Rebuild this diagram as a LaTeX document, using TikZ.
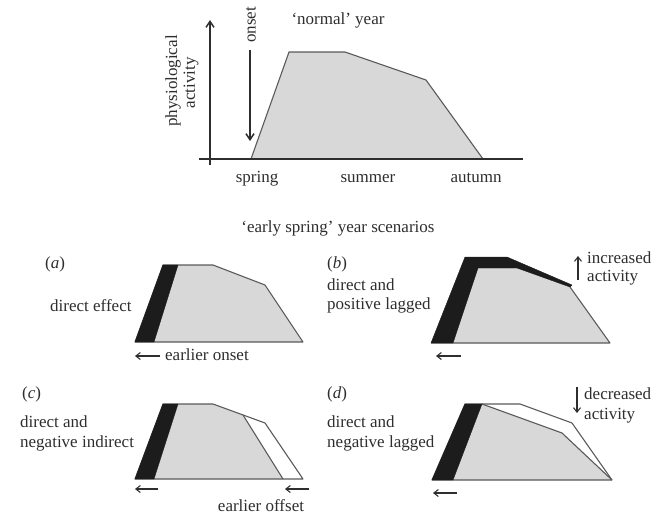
\documentclass[tikz,border=0pt]{standalone}
\usepackage{fontspec}
\setmainfont{Liberation Serif}
\usetikzlibrary{arrows.meta}
\definecolor{txtc}{HTML}{2E2E2E}
\definecolor{fillg}{HTML}{D8D8D8}
\definecolor{edgec}{HTML}{5A5A5A}
\definecolor{bandc}{HTML}{1C1C1C}
\begin{document}
\begin{tikzpicture}[x=1pt,y=-1pt,
  lbl/.style={font=\fontsize{17}{20}\selectfont, inner sep=0pt, text=txtc},
  shapeedge/.style={draw=edgec, line width=1.1pt, line join=round},
  greyfill/.style={fill=fillg},
  band/.style={fill=bandc, draw=bandc, line width=0.4pt, line join=round},
  axisline/.style={draw=txtc, line width=1.6pt},
  bigarrow/.style={draw=txtc, line width=1.5pt, -{Straight Barb[length=6pt,width=8pt]}},
  smallarrow/.style={draw=txtc, line width=1.1pt, -{Straight Barb[length=4.5pt,width=7pt]}}
]
\useasboundingbox (0,0) rectangle (657,515);

% ---------------- top panel: 'normal' year ----------------
\path[greyfill] (251,159) -- (289,52) -- (345,52) -- (426,80) -- (483,159) -- cycle;
\draw[shapeedge] (251,159) -- (289,52) -- (345,52) -- (426,80) -- (483,159);
\coordinate (xl) at (199,159);
\coordinate (xr) at (523,159);
\draw[axisline] (xl) -- (xr);
\coordinate (yb) at (210,165);
\coordinate (yt) at (210,20);
\draw[bigarrow] (yb) -- (yt);
\coordinate (ons1) at (250,50);
\coordinate (ons2) at (250,141);
\draw[bigarrow] (ons1) -- (ons2);

\node[lbl, rotate=90] (onset) at (251,25) {onset};
\node[lbl, rotate=90] (phys) at (173,81) {physiological};
\node[lbl, rotate=90] (act) at (191,83) {activity};
\node[lbl, anchor=base] (normal) at (338,24) {‘normal’ year};
\node[lbl, anchor=base] (spring) at (257,182) {spring};
\node[lbl, anchor=base] (summer) at (368,182) {summer};
\node[lbl, anchor=base] (autumn) at (476,182) {autumn};

\node[lbl, anchor=base] (title) at (338,232) {‘early spring’ year scenarios};

% ---------------- panel (a) ----------------
\path[greyfill] (135,342) -- (163,265) -- (213,265) -- (265,285) -- (303,342) -- cycle;
\draw[shapeedge] (135,342) -- (163,265) -- (213,265) -- (265,285) -- (303,342) -- cycle;
\draw[band] (135,342) -- (163,265) -- (178,265) -- (154,342) -- cycle;
\node[lbl, anchor=base west] (la) at (45,268) {(\textit{a})};
\node[lbl, anchor=base west] (ta) at (50,311) {direct effect};
\coordinate (a1) at (160,356);
\coordinate (a2) at (135,356);
\draw[smallarrow] (a1) -- (a2);
\node[lbl, anchor=base west] (onsa) at (165,360) {earlier onset};

% ---------------- panel (b) ----------------
\path[greyfill] (453,343) -- (478,268) -- (517,268) -- (570,287) -- (610,343) -- cycle;
\draw[shapeedge] (431,343) -- (610,343) -- (570,287);
\draw[band] (431,343) -- (465,257) -- (507,257) -- (572,285) -- (570,287) -- (517,268) -- (478,268) -- (453,343) -- cycle;
\node[lbl, anchor=base west] (lb) at (327,268) {(\textit{b})};
\node[lbl, anchor=base west] (tb1) at (327,290) {direct and};
\node[lbl, anchor=base west] (tb2) at (327,309) {positive lagged};
\coordinate (b1) at (461,356);
\coordinate (b2) at (436,356);
\draw[smallarrow] (b1) -- (b2);
\coordinate (up1) at (578,280);
\coordinate (up2) at (578,256);
\draw[smallarrow] (up1) -- (up2);
\node[lbl, anchor=base west] (inc1) at (587,263) {increased};
\node[lbl, anchor=base west] (inc2) at (587,281) {activity};

% ---------------- panel (c) ----------------
\path[greyfill] (154,479) -- (178,404) -- (213,404) -- (243,415) -- (283,479) -- cycle;
\draw[shapeedge] (135,479) -- (163,404) -- (213,404) -- (265,423) -- (303,479) -- cycle;
\draw[shapeedge] (243,415) -- (283,479);
\draw[band] (135,479) -- (163,404) -- (178,404) -- (154,479) -- cycle;
\node[lbl, anchor=base west] (lc) at (22,398) {(\textit{c})};
\node[lbl, anchor=base west] (tc1) at (20,427) {direct and};
\node[lbl, anchor=base west] (tc2) at (20,447) {negative indirect};
\coordinate (c1) at (158,489);
\coordinate (c2) at (135,489);
\draw[smallarrow] (c1) -- (c2);
\coordinate (c3) at (309,489);
\coordinate (c4) at (285,489);
\draw[smallarrow] (c3) -- (c4);
\node[lbl, anchor=base] (offc) at (261,511) {earlier offset};

% ---------------- panel (d) ----------------
\path[greyfill] (453,480) -- (482,404) -- (562,433) -- (612,480) -- cycle;
\draw[shapeedge] (432,480) -- (465,404) -- (520,404) -- (572,423) -- (612,480) -- cycle;
\draw[shapeedge] (482,404) -- (562,433) -- (612,480);
\draw[band] (432,480) -- (465,404) -- (482,404) -- (453,480) -- cycle;
\node[lbl, anchor=base west] (ld) at (327,398) {(\textit{d})};
\node[lbl, anchor=base west] (td1) at (327,427) {direct and};
\node[lbl, anchor=base west] (td2) at (327,447) {negative lagged};
\coordinate (d1) at (457,493);
\coordinate (d2) at (433,493);
\draw[smallarrow] (d1) -- (d2);
\coordinate (dn1) at (577,387);
\coordinate (dn2) at (577,413);
\draw[smallarrow] (dn1) -- (dn2);
\node[lbl, anchor=base west] (dec1) at (584,399) {decreased};
\node[lbl, anchor=base west] (dec2) at (584,419) {activity};
\end{tikzpicture}
\end{document}
